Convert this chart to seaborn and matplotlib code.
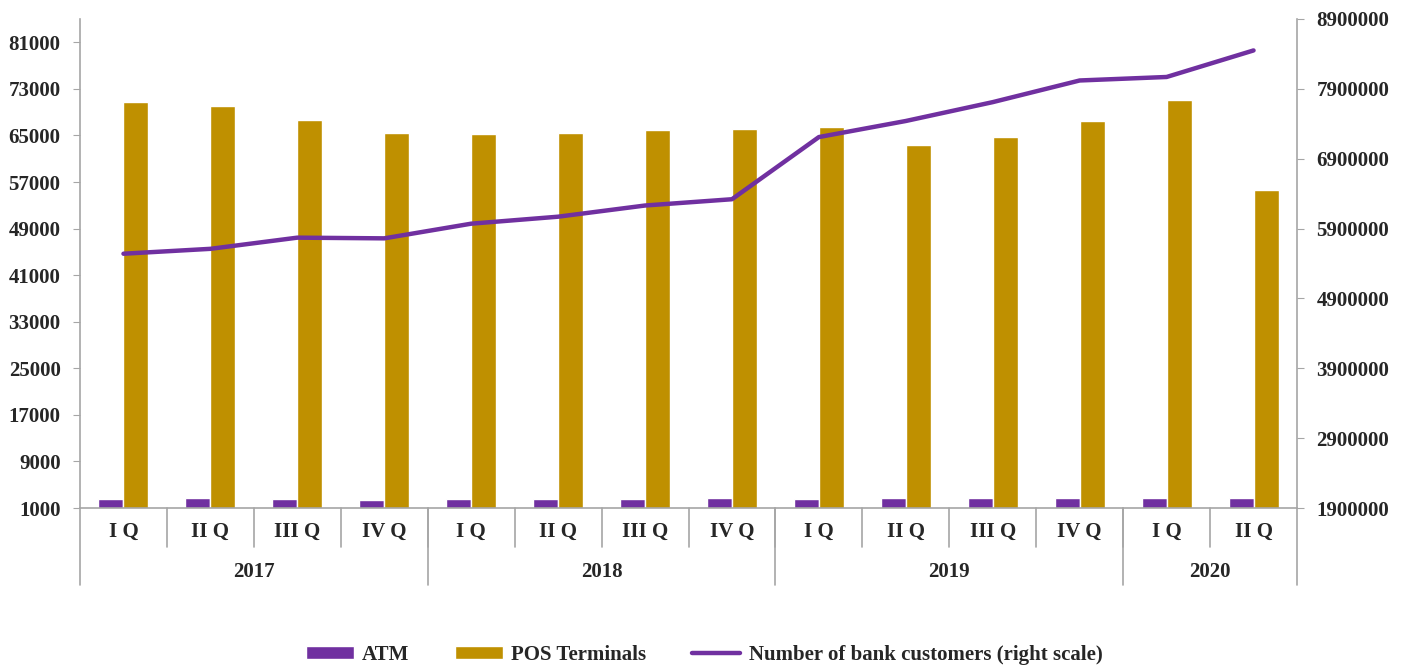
import numpy as np
import pandas as pd
import seaborn as sns
import matplotlib.pyplot as plt
import matplotlib.transforms as mtransforms
from matplotlib.ticker import FuncFormatter
from matplotlib.patches import Patch
from matplotlib.lines import Line2D

# --- data ---
years = ["2017", "2018", "2019", "2020"]
quarters_per_year = [4, 4, 4, 2]
quarter_labels = ["I Q", "II Q", "III Q", "IV Q", "I Q", "II Q", "III Q", "IV Q",
                  "I Q", "II Q", "III Q", "IV Q", "I Q", "II Q"]
atm = [2550, 2650, 2550, 2450, 2550, 2550, 2550, 2650, 2600, 2650, 2650, 2750, 2800, 2650]
pos_terminals = [70800, 70000, 67600, 65500, 65200, 65500, 65900, 66100,
                 66400, 63300, 64800, 67500, 71100, 55600]
bank_customers = [5540000, 5610000, 5770000, 5760000, 5970000, 6070000, 6230000, 6320000,
                  7210000, 7440000, 7710000, 8020000, 8070000, 8450000]

PURPLE = "#7030A0"
GOLD = "#BF9000"
GRID_GREY = "#A6A6A6"

sns.set_style("white")
plt.rcParams["font.family"] = ["Liberation Serif", "DejaVu Serif"]
plt.rcParams["font.weight"] = "bold"

keys = [f"{i:02d}" for i in range(len(quarter_labels))]
df = pd.DataFrame({
    "period": keys * 2,
    "value": atm + pos_terminals,
    "series": ["ATM"] * len(keys) + ["POS Terminals"] * len(keys),
})

fig = plt.figure(figsize=(14.08, 6.68), dpi=100)
ax = fig.add_axes([80 / 1408, 1 - 508 / 668, (1297 - 80) / 1408, (508 - 19) / 668])

sns.barplot(data=df, x="period", y="value", hue="series", order=keys,
            palette={"ATM": PURPLE, "POS Terminals": GOLD},
            width=0.575, saturation=1, gap=0, ax=ax, legend=False)
ax.set_ylim(1000, 85000)
ax.set_yticks(np.arange(1000, 81001, 8000))
ax.set_xlim(-0.5, len(keys) - 0.5)
ax.set_xticks([])
ax.set_xlabel("")
ax.set_ylabel("")

ax2 = ax.twinx()
sns.lineplot(x=np.arange(len(keys)), y=bank_customers, color=PURPLE, lw=3.2, ax=ax2)
ax2.set_ylim(1900000, 8900000)
ax2.set_yticks(np.arange(1900000, 8900001, 1000000))
ax2.yaxis.set_major_formatter(FuncFormatter(lambda v, p: f"{v:.0f}"))
ax2.set_xlim(-0.5, len(keys) - 0.5)

for a in (ax, ax2):
    for s in a.spines.values():
        s.set_color(GRID_GREY)
        s.set_linewidth(1.2)
    a.spines["top"].set_visible(False)
ax.spines["right"].set_visible(False)
ax2.spines["left"].set_visible(False)
ax2.spines["bottom"].set_visible(False)

ax.tick_params(axis="y", left=True, length=5, color=GRID_GREY, pad=9, labelsize=15)
ax2.tick_params(axis="y", right=True, length=5, color=GRID_GREY, pad=9, labelsize=15)
for lab in ax.get_yticklabels() + ax2.get_yticklabels():
    lab.set_fontweight("bold")

# --- two-level category axis ---
trans = mtransforms.blended_transform_factory(ax.transData, ax.transAxes)
px = 1.0 / (508 - 19)  # one pixel in axes fraction (vertical)
for i, q in enumerate(quarter_labels):
    ax.text(i, -24 * px, q, transform=trans, ha="center", va="center",
            fontsize=15, fontweight="bold")
    if i > 0:
        ax.plot([i - 0.5, i - 0.5], [0, -39 * px], transform=trans,
                color=GRID_GREY, lw=1.2, clip_on=False)

start = 0
for y, n in zip(years, quarters_per_year):
    centre = start + (n - 1) / 2
    ax.text(centre, -64 * px, y, transform=trans, ha="center", va="center",
            fontsize=15, fontweight="bold")
    ax.plot([start - 0.5, start - 0.5], [0, -77 * px], transform=trans,
            color=GRID_GREY, lw=1.2, clip_on=False)
    start += n
ax.plot([start - 0.5, start - 0.5], [0, -77 * px], transform=trans,
        color=GRID_GREY, lw=1.2, clip_on=False)

handles = [
    Patch(facecolor=PURPLE, label="ATM"),
    Patch(facecolor=GOLD, label="POS Terminals"),
    Line2D([0], [0], color=PURPLE, lw=3.2, label="Number of bank customers (right scale)"),
]
fig.legend(handles=handles, loc="center", bbox_to_anchor=(0.5, 13 / 668), ncol=3,
           frameon=False, prop={"size": 15, "weight": "bold"},
           handlelength=2.3, handleheight=0.55, handletextpad=0.4, columnspacing=2.2)

fig.savefig("out.png", dpi=100)
